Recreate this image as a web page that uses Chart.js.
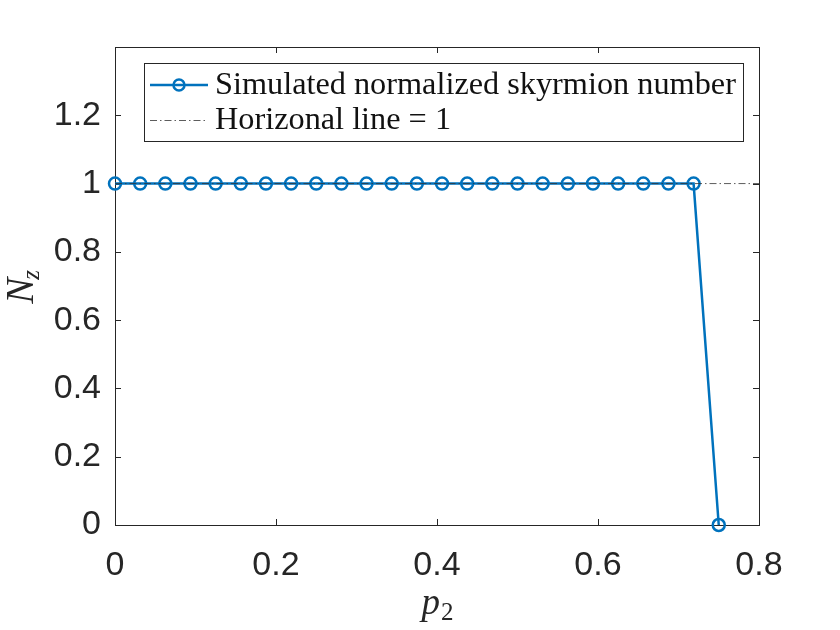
<!DOCTYPE html>
<html><head><meta charset="utf-8">
<script src="https://cdn.jsdelivr.net/npm/chart.js@4.4.1/dist/chart.umd.min.js"></script>
<style>html,body{margin:0;padding:0;background:#fff}#wrap{width:840px;height:630px}</style>
</head><body>
<div id="wrap"><canvas id="c" width="840" height="630"></canvas></div>
<script>
// ---- data ----
const p2Values = [0, 0.03125, 0.0625, 0.09375, 0.125, 0.15625, 0.1875, 0.21875, 0.25, 0.28125, 0.3125, 0.34375, 0.375, 0.40625, 0.4375, 0.46875, 0.5, 0.53125, 0.5625, 0.59375, 0.625, 0.65625, 0.6875, 0.71875, 0.75];
const nzValues = [1, 1, 1, 1, 1, 1, 1, 1, 1, 1, 1, 1, 1, 1, 1, 1, 1, 1, 1, 1, 1, 1, 1, 1, 0];
const refX = [0, 0.8];
const refY = [1, 1];
const xTicks = [0, 0.2, 0.4, 0.6, 0.8];
const yTicks = [0, 0.2, 0.4, 0.6, 0.8, 1, 1.2];
const xTickLabels = ['0', '0.2', '0.4', '0.6', '0.8'];
const yTickLabels = ['0', '0.2', '0.4', '0.6', '0.8', '1', '1.2'];
const seriesLabels = ['Simulated normalized skyrmion number', 'Horizonal line = 1'];

const BLUE = '#0072BD';
const AX = '#262626';
const DASHDOT = [7, 3, 1.5, 3];

const boxTicks = {
  id: 'boxTicks',
  beforeDatasetsDraw(chart) {
    const {ctx, chartArea: a, scales: {x, y}} = chart;
    ctx.save();
    ctx.strokeStyle = AX; ctx.lineWidth = 1;
    ctx.strokeRect(Math.round(a.left) + 0.5, Math.round(a.top) + 0.5, Math.round(a.right - a.left), Math.round(a.bottom - a.top));
    const L = 6;
    ctx.beginPath();
    xTicks.forEach(v => {
      const px = Math.round(x.getPixelForValue(v)) + 0.5;
      ctx.moveTo(px, a.bottom); ctx.lineTo(px, a.bottom - L);
      ctx.moveTo(px, a.top); ctx.lineTo(px, a.top + L);
    });
    yTicks.forEach(v => {
      const py = Math.round(y.getPixelForValue(v)) + 0.5;
      ctx.moveTo(a.left, py); ctx.lineTo(a.left + L, py);
      ctx.moveTo(a.right, py); ctx.lineTo(a.right - L, py);
    });
    ctx.stroke();
    ctx.restore();
  },
  afterDraw(chart) {
    const {ctx, chartArea: a} = chart;
    ctx.save();
    ctx.fillStyle = AX;
    // x title p_2
    const cx = (a.left + a.right) / 2;
    ctx.font = 'italic 37px "Liberation Serif"';
    ctx.textBaseline = 'alphabetic';
    const pw = ctx.measureText('p').width;
    ctx.font = '25px "Liberation Serif"';
    const sw = ctx.measureText('2').width;
    const x0 = cx - (pw + sw) / 2;
    ctx.font = 'italic 37px "Liberation Serif"';
    ctx.fillText('p', x0, 614);
    ctx.font = '25px "Liberation Serif"';
    ctx.fillText('2', x0 + pw + 1, 620);
    // y title N_z
    const cy = (a.top + a.bottom) / 2;
    ctx.translate(33, cy);
    ctx.rotate(-Math.PI / 2);
    ctx.font = 'italic 39px "Liberation Serif"';
    const nw = ctx.measureText('N').width;
    ctx.font = 'italic 25px "Liberation Serif"';
    const zw = ctx.measureText('z').width;
    const y0 = -(nw + zw) / 2;
    ctx.font = 'italic 39px "Liberation Serif"';
    ctx.fillText('N', y0, 0);
    ctx.font = 'italic 25px "Liberation Serif"';
    ctx.fillText('z', y0 + nw - 2, 6);
    ctx.restore();

    // legend
    ctx.save();
    const lx = 144.5, ly = 63.5, lw = 599, lh = 78;
    ctx.fillStyle = '#fff';
    ctx.fillRect(lx, ly, lw, lh);
    ctx.strokeStyle = AX; ctx.lineWidth = 1;
    ctx.strokeRect(lx, ly, lw, lh);
    const rows = [85, 120];
    // row 1 sample
    ctx.strokeStyle = BLUE; ctx.lineWidth = 2.5;
    ctx.beginPath(); ctx.moveTo(150, rows[0]); ctx.lineTo(208, rows[0]); ctx.stroke();
    ctx.beginPath(); ctx.arc(179, rows[0], 5.5, 0, Math.PI * 2); ctx.stroke();
    // row 2 sample
    ctx.strokeStyle = '#333'; ctx.lineWidth = 0.8; ctx.setLineDash(DASHDOT);
    ctx.beginPath(); ctx.moveTo(150, rows[1] + 0.5); ctx.lineTo(208, rows[1] + 0.5); ctx.stroke();
    ctx.setLineDash([]);
    // text
    ctx.fillStyle = '#111';
    let fs = 28;
    ctx.font = fs + 'px "Liberation Serif"';
    const m = ctx.measureText(seriesLabels[0]).width;
    fs = fs * 521 / m;
    ctx.font = fs.toFixed(2) + 'px "Liberation Serif"';
    ctx.textBaseline = 'middle';
    ctx.fillText(seriesLabels[0], 215, rows[0] + 1);
    ctx.fillText(seriesLabels[1], 215, rows[1] + 1);
    ctx.restore();
  }
};

const simData = p2Values.map((v, i) => ({x: v, y: nzValues[i]}));
const refData = refX.map((v, i) => ({x: v, y: refY[i]}));

new Chart(document.getElementById('c'), {
  type: 'line',
  data: {
    datasets: [
      {
        label: seriesLabels[0], data: simData, borderColor: BLUE, borderWidth: 2.5,
        pointRadius: 6, pointBorderWidth: 2.5, pointBorderColor: BLUE,
        pointBackgroundColor: 'rgba(0,0,0,0)', pointStyle: 'circle',
        tension: 0, clip: false, order: 1
      },
      {
        label: seriesLabels[1], data: refData, borderColor: '#333', borderWidth: 0.8,
        borderDash: DASHDOT, pointRadius: 0, tension: 0, clip: false, order: 0
      }
    ]
  },
  options: {
    responsive: false, animation: false, devicePixelRatio: 1,
    layout: {padding: {top: 47, right: 81, left: 0, bottom: 0}},
    plugins: {legend: {display: false}, tooltip: {enabled: false}},
    scales: {
      x: {
        type: 'linear', min: 0, max: 0.8,
        afterBuildTicks: s => { s.ticks = xTicks.map(v => ({value: v})); },
        afterFit: s => { s.height = 105; },
        grid: {display: false}, border: {display: false},
        ticks: {
          padding: 12, color: AX, font: {family: '"Liberation Sans"', size: 34},
          maxRotation: 0, autoSkip: false,
          callback: (v) => { const i = xTicks.indexOf(v); return i >= 0 ? xTickLabels[i] : ''; }
        },
        title: {display: false}
      },
      y: {
        type: 'linear', min: 0, max: 1.4,
        afterBuildTicks: s => { s.ticks = yTicks.map(v => ({value: v})); },
        afterFit: s => { s.width = 115; },
        grid: {display: false}, border: {display: false},
        ticks: {
          padding: 6, color: AX, font: {family: '"Liberation Sans"', size: 34},
          autoSkip: false,
          callback: (v) => { const i = yTicks.indexOf(v); return i >= 0 ? yTickLabels[i] : ''; }
        },
        title: {display: false}
      }
    }
  },
  plugins: [boxTicks]
});
</script>
</body></html>
